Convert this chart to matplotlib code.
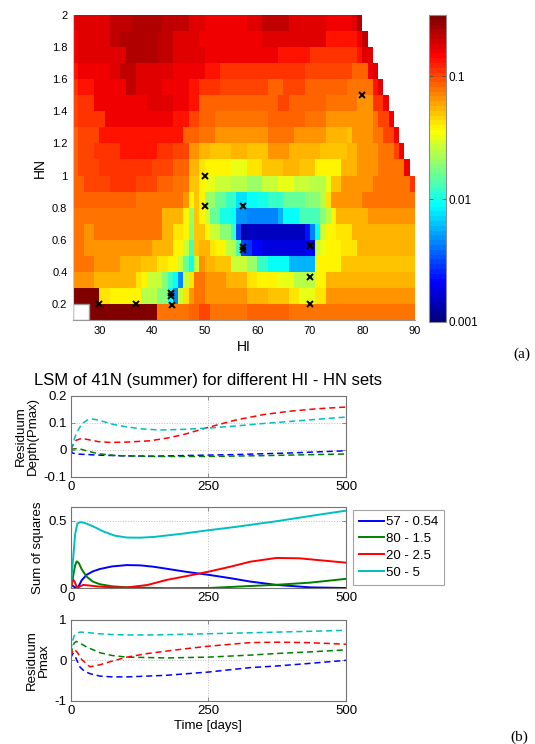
import numpy as np
import matplotlib
matplotlib.use("Agg")
import matplotlib.pyplot as plt
from matplotlib.colors import LinearSegmentedColormap, LogNorm
from matplotlib.ticker import FixedLocator, NullLocator
from matplotlib.patches import Rectangle

plt.rcParams['font.family'] = ['Liberation Sans', 'DejaVu Sans']

# ---------------- heat map data (a) ----------------
HI_EDGES = list(range(25, 91))                      # 65 columns
HN_EDGES = [round(0.1 * k, 1) for k in range(1, 21)]  # 19 rows
# colour level per cell: index in LEVELS -> log10(value) = -3 + 2.5*idx/40 ; '.' = no data
LEVELS = "0123456789abcdefghijklmnopqrstuvwxyzABCDE"
# run-length rows, from top (HN 1.9-2.0) to bottom (HN 0.1-0.2)
ROWS_RLE = [
    "A7 B4 C6 B5 A3 z8 A3 B5 A7 z5 A C .10",
    "z A6 B2 C7 B3 A5 z9 z3 A12 y5 y z B .9",
    "z A9 C6 B3 A6 z8 z6 y6 x8 x y A2 .8",
    "y z6 A2 B3 A7 z6 y3 x5 x11 w9 v3 z A .7",
    "x y3 z6 B2 A5 z5 y2 x4 w5 w4 v3 w4 v8 u5 y A .6",
    "w x3 z10 A5 z3 y2 v9 v6 w2 v7 u6 t3 x2 z .5",
    "w x5 z13 y3 w2 v3 u6 u4 v7 u4 t9 u w2 z .4",
    "v w4 y16 v3 u3 t6 t4 u5 t6 s4 r t4 u2 w2 z .3",
    "v w3 x5 y7 x3 w3 t2 s2 r4 s3 r4 t4 s6 r5 s2 t4 u3 w z .2",
    "v w4 x10 w4 v3 s2 q p5 o3 q3 r4 s3 r3 p5 s3 t4 u5 z .1",
    "v2 w5 x5 w4 v3 u3 r2 p o2 n3 m3 l3 n3 o3 n3 m3 o r2 t6 u7 x",
    "v12 u9 t p r p l2 j2 h2 e2 f2 g2 h3 j4 k3 m q t6 u10",
    "u17 s4 p l r p n j2 g2 f b2 a6 c f3 i4 k m p s6 t9",
    "u2 t2 u13 s2 q2 p k r2 p n2 k2 h 8 2 311 6 a f n p2 q3 s12",
    "u2 t13 s4 p2 n i r s2 q p2 m2 i 8 7 52 48 52 n o p3 q3 s11",
    "u4 t5 s4 r3 q2 p2 n j f n t s2 r3 n3 l2 h2 f4 c5 p5 r14",
    "t4 s8 q p n3 k h f a n q u2 t4 s4 q2 p4 o3 m4 p2 s17",
    "E5 q2 p6 m3 k2 f a n q t u2 t8 s4 r4 q2 o3 q2 t17",
    ".3 E13 u6 v2 w2 u7 v8 u24",
]
MARK_HI = [30, 37, 43.8, 43.6, 43.6, 50, 50, 57.3, 57.3, 57.3, 70, 70, 70, 70, 80]
MARK_HN = [0.2, 0.2, 0.195, 0.25, 0.27, 1.0, 0.81, 0.81, 0.535, 0.555, 0.56, 0.57, 0.37, 0.2, 1.5]
CB_TICKS = [0.001, 0.01, 0.1]
CB_LABELS = ["0.001", "0.01", "0.1"]

# ---------------- line data (b) ----------------
LABELS = ["57 - 0.54", "80 - 1.5", "20 - 2.5", "50 - 5"]
COLORS = ["#0000ff", "#008000", "#ff0000", "#00bfbf"]

# Residuum Depth(Pmax)
D1_BLUE_X = [0, 3, 10, 50, 100, 150, 250, 300, 350, 400, 450, 500]
D1_BLUE_Y = [0, -0.012, -0.016, -0.02, -0.023, -0.024, -0.02, -0.018, -0.015, -0.012, -0.008, -0.004]
D1_GREEN_X = [0, 5, 15, 30, 50, 84, 150, 250, 350, 420, 500]
D1_GREEN_Y = [0, 0.003, 0.004, -0.005, -0.015, -0.022, -0.025, -0.025, -0.022, -0.019, -0.016]
D1_RED_X = [0, 5, 10, 20, 35, 50, 71, 100, 144, 175, 205, 250, 300, 350, 400, 450, 500]
D1_RED_Y = [0, 0.02, 0.035, 0.042, 0.036, 0.03, 0.027, 0.028, 0.033, 0.043, 0.056, 0.083, 0.11, 0.13,
            0.143, 0.152, 0.158]
D1_CYAN_X = [0, 5, 10, 20, 30, 38, 50, 75, 100, 130, 162, 200, 250, 300, 350, 400, 450, 500]
D1_CYAN_Y = [0, 0.03, 0.06, 0.095, 0.11, 0.114, 0.11, 0.095, 0.085, 0.077, 0.073, 0.075, 0.08, 0.088,
             0.097, 0.105, 0.113, 0.121]

# Sum of squares
D2_BLUE_X = [0, 3, 6, 10, 15, 20, 29, 40, 53, 75, 102, 126, 150, 174, 210, 250, 290, 326, 374, 435, 500]
D2_BLUE_Y = [0.015, 0.02, 0.012, 0.0, 0.02, 0.06, 0.1, 0.125, 0.143, 0.162, 0.172, 0.17, 0.16, 0.145,
             0.122, 0.1, 0.075, 0.05, 0.025, 0.007, 0.002]
D2_GREEN_X = [0, 4, 8, 11, 15, 20, 29, 40, 53, 75, 102, 174, 250, 326, 374, 435, 500]
D2_GREEN_Y = [0, 0.08, 0.17, 0.2, 0.185, 0.14, 0.086, 0.05, 0.03, 0.015, 0.007, 0.001, 0.002, 0.017,
              0.026, 0.042, 0.07]
D2_RED_X = [0, 3, 5, 8, 12, 17, 23, 35, 53, 75, 102, 140, 174, 210, 250, 290, 326, 374, 416, 460, 500]
D2_RED_Y = [0, 0.05, 0.062, 0.04, 0.0, 0.015, 0.025, 0.02, 0.012, 0.008, 0.006, 0.025, 0.062, 0.09,
            0.123, 0.16, 0.197, 0.225, 0.222, 0.205, 0.19]
D2_CYAN_X = [0, 4, 8, 12, 17, 25, 40, 60, 80, 102, 125, 150, 200, 250, 300, 374, 450, 500]
D2_CYAN_Y = [0, 0.2, 0.4, 0.48, 0.49, 0.485, 0.46, 0.42, 0.39, 0.376, 0.375, 0.38, 0.403, 0.43, 0.455,
             0.497, 0.545, 0.575]

# Residuum Pmax
D3_BLUE_X = [0, 2, 4, 8, 17, 25, 35, 53, 75, 102, 140, 174, 250, 326, 374, 430, 500]
D3_BLUE_Y = [0.05, 0.12, 0.17, 0.1, -0.17, -0.27, -0.33, -0.39, -0.41, -0.41, -0.39, -0.37, -0.29,
             -0.18, -0.14, -0.08, 0.0]
D3_GREEN_X = [0, 3, 6, 10, 15, 29, 53, 75, 102, 174, 250, 326, 374, 435, 500]
D3_GREEN_Y = [0.15, 0.3, 0.42, 0.47, 0.44, 0.33, 0.19, 0.12, 0.08, 0.06, 0.08, 0.13, 0.17, 0.21, 0.26]
D3_RED_X = [0, 3, 6, 12, 20, 35, 53, 75, 102, 140, 174, 210, 250, 326, 374, 430, 500]
D3_RED_Y = [0.1, 0.22, 0.28, 0.2, 0.02, -0.16, -0.11, -0.02, 0.08, 0.17, 0.23, 0.29, 0.35, 0.44, 0.45,
            0.44, 0.4]
D3_CYAN_X = [0, 3, 6, 11, 17, 30, 50, 75, 102, 150, 200, 250, 300, 374, 450, 500]
D3_CYAN_Y = [0.25, 0.45, 0.6, 0.67, 0.7, 0.69, 0.66, 0.64, 0.63, 0.63, 0.645, 0.66, 0.675, 0.7, 0.725,
             0.745]

X_TICKS = [0, 250, 500]


def decode(row, n=65):
    out = []
    for tok in row.split():
        ch = tok[0]
        cnt = int(tok[1:]) if len(tok) > 1 else 1
        val = np.nan if ch == '.' else 10 ** (-3 + 2.5 * LEVELS.index(ch) / 40.0)
        out += [val] * cnt
    out = (out + [np.nan] * n)[:n]
    return out


Z = np.array([decode(r) for r in ROWS_RLE][::-1])

jet = LinearSegmentedColormap('matlab_jet', {
    'red': [(0, 0, 0), (0.375, 0, 0), (0.625, 1, 1), (0.875, 1, 1), (1, 0.5, 0.5)],
    'green': [(0, 0, 0), (0.125, 0, 0), (0.375, 1, 1), (0.625, 1, 1), (0.875, 0, 0), (1, 0, 0)],
    'blue': [(0, 0.5, 0.5), (0.125, 1, 1), (0.375, 1, 1), (0.625, 0, 0), (1, 0, 0)]}, N=64)
norm = LogNorm(vmin=1e-3, vmax=10 ** -0.5)

W, H = 535, 744
fig = plt.figure(figsize=(W / 100, H / 100), dpi=100)


def rect(l, t, r, b):
    return [l / W, 1 - b / H, (r - l) / W, (b - t) / H]


SPINE = '0.45'

# ---- heat map ----
hm = fig.add_axes(rect(73, 15, 415, 320))
mesh = hm.pcolormesh(HI_EDGES, HN_EDGES, np.ma.masked_invalid(Z), cmap=jet, norm=norm)
hm.add_patch(Rectangle((HI_EDGES[0], HN_EDGES[0]), HI_EDGES[3] - HI_EDGES[0],
                       HN_EDGES[1] - HN_EDGES[0], fill=False, edgecolor='0.6', lw=1.0))
hm.plot(MARK_HI, MARK_HN, ls='none', marker='x', color='k', ms=5, mew=1.4)
hm.set_xlim(25, 90)
hm.set_ylim(0.1, 2.0)
hm.set_xticks([30, 40, 50, 60, 70, 80, 90])
hm.set_yticks([0.2, 0.4, 0.6, 0.8, 1, 1.2, 1.4, 1.6, 1.8, 2])
hm.set_yticklabels(["0.2", "0.4", "0.6", "0.8", "1", "1.2", "1.4", "1.6", "1.8", "2"])
hm.tick_params(direction='in', length=0, labelsize=8, pad=4)
hm.set_xlabel("HI", fontsize=10, labelpad=3)
hm.set_ylabel("HN", fontsize=10, labelpad=4)
for s in hm.spines.values():
    s.set_visible(False)
hm.spines['bottom'].set_visible(True)
hm.spines['bottom'].set_color('0.6')
hm.spines['left'].set_visible(True)
hm.spines['left'].set_color('0.8')

cax = fig.add_axes(rect(429, 15, 446, 321.7))
cb = fig.colorbar(mesh, cax=cax)
cb.set_ticks(CB_TICKS)
cb.set_ticklabels(CB_LABELS)
cax.yaxis.set_minor_locator(NullLocator())
cax.tick_params(direction='in', length=3, width=0.6, left=True, right=True, labelsize=8.5,
                color='0.3', pad=2)
cb.outline.set_edgecolor('0.55')
cb.outline.set_linewidth(0.8)

fig.text(522 / W, 1 - 354 / H, "(a)", family=['Liberation Serif'], fontsize=11,
         ha='center', va='center')
fig.text(519 / W, 1 - 737 / H, "(b)", family=['Liberation Serif'], fontsize=11,
         ha='center', va='center')

# ---- line panels ----
def style(ax, ylim, yticks, ylabels):
    ax.set_xlim(0, 500)
    ax.set_ylim(*ylim)
    ax.xaxis.set_major_locator(FixedLocator(X_TICKS))
    ax.set_yticks(yticks)
    ax.set_yticklabels(ylabels)
    ax.grid(True, ls=':', color='0.75', lw=0.7)
    ax.tick_params(direction='in', length=3, width=0.5, labelsize=9.5, color='0.4', pad=3,
                   top=True, right=True)
    for s in ax.spines.values():
        s.set_color(SPINE)
        s.set_linewidth(0.8)


series1 = [(D1_BLUE_X, D1_BLUE_Y), (D1_GREEN_X, D1_GREEN_Y), (D1_RED_X, D1_RED_Y), (D1_CYAN_X, D1_CYAN_Y)]
series2 = [(D2_BLUE_X, D2_BLUE_Y), (D2_GREEN_X, D2_GREEN_Y), (D2_RED_X, D2_RED_Y), (D2_CYAN_X, D2_CYAN_Y)]
series3 = [(D3_BLUE_X, D3_BLUE_Y), (D3_GREEN_X, D3_GREEN_Y), (D3_RED_X, D3_RED_Y), (D3_CYAN_X, D3_CYAN_Y)]

DASH = (0, (4, 2.5))

p1 = fig.add_axes(rect(70.7, 395.7, 346, 476.7))
for (x, y), c in zip(series1, COLORS):
    p1.plot(x, y, color=c, lw=1.1, ls=DASH)
style(p1, (-0.1, 0.2), [-0.1, 0, 0.1, 0.2], ["-0.1", "0", "0.1", "0.2"])
p1.set_ylabel("Residuum\nDepth(Pmax)", fontsize=9.5, labelpad=3, linespacing=1.0)
p1.set_title("LSM of 41N (summer) for different HI - HN sets", fontsize=12, pad=8)

p2 = fig.add_axes(rect(70.7, 507.3, 346, 588.3))
handles = []
for (x, y), c, lab in zip(series2, COLORS, LABELS):
    h, = p2.plot(x, y, color=c, lw=1.4, label=lab)
    handles.append(h)
style(p2, (0, 0.6), [0, 0.5], ["0", "0.5"])
p2.set_ylabel("Sum of squares", fontsize=9.5, labelpad=3)
leg = fig.legend(handles=handles, loc='upper left', bbox_to_anchor=(353 / W, 1 - 510 / H),
                 fontsize=9.5, frameon=True, fancybox=False, handlelength=1.9,
                 handletextpad=0.15, labelspacing=0.35, borderpad=0.45, borderaxespad=0)
leg.get_frame().set_edgecolor('0.55')
leg.get_frame().set_linewidth(0.8)

p3 = fig.add_axes(rect(70.7, 620, 346, 700.7))
for (x, y), c in zip(series3, COLORS):
    p3.plot(x, y, color=c, lw=1.1, ls=DASH)
style(p3, (-1, 1), [-1, 0, 1], ["-1", "0", "1"])
p3.set_ylabel("Residuum\nPmax", fontsize=9.5, labelpad=3, linespacing=1.0)
p3.set_xlabel("Time [days]", fontsize=9.5, labelpad=2)

fig.savefig("out.png", dpi=100)
